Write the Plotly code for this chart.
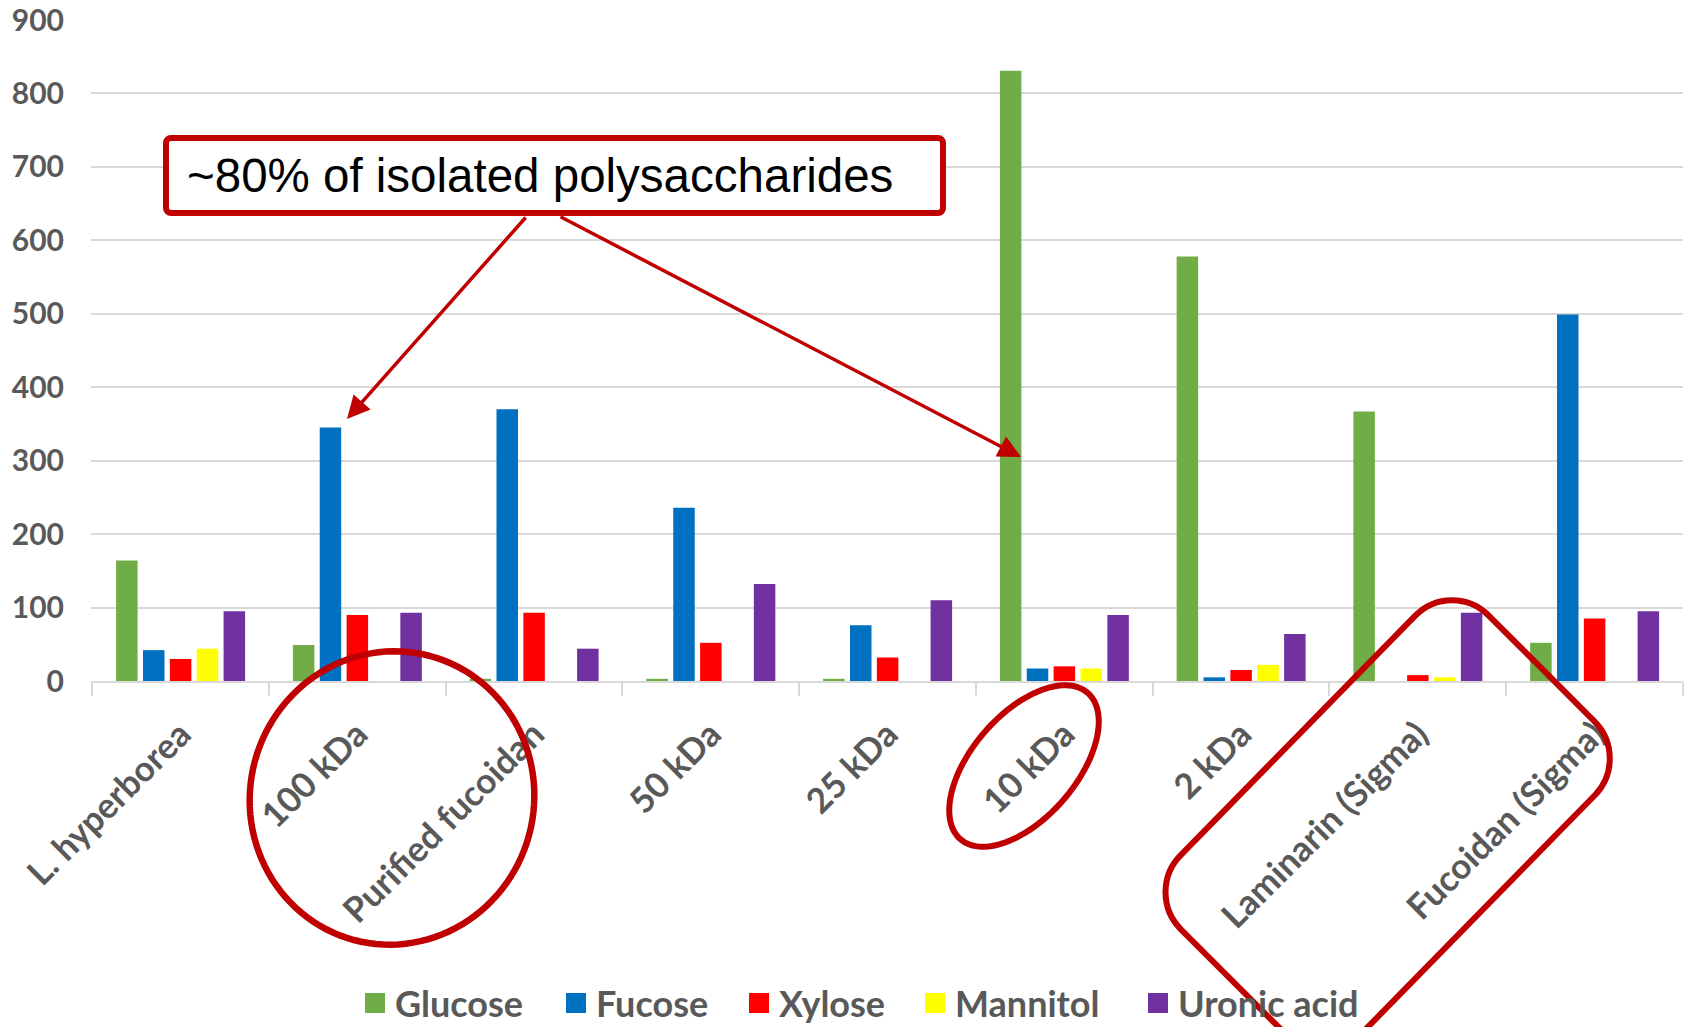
import numpy as np
import plotly.graph_objects as go

# ---------------- data ----------------
categories = ["L. hyperborea", "100 kDa", "Purified fucoidan", "50 kDa", "25 kDa",
              "10 kDa", "2 kDa", "Laminarin (Sigma)", "Fucoidan (Sigma)"]
glucose = [164, 49, 3, 3, 3, 831, 578, 367, 52]
fucose = [42, 345, 370, 236, 76, 17, 5, 0, 499]
xylose = [30, 90, 93, 52, 32, 20, 15, 8, 85]
mannitol = [44, 0, 0, 0, 0, 17, 22, 5, 0]
uronic_acid = [95, 93, 44, 132, 110, 90, 64, 93, 95]
series_names = ["Glucose", "Fucose", "Xylose", "Mannitol", "Uronic acid"]
series_colors = ["#70AD47", "#0070C0", "#FF0000", "#FFFF00", "#7030A0"]
y_ticks = [0, 100, 200, 300, 400, 500, 600, 700, 800, 900]
callout_text = "~80% of isolated polysaccharides"

# ---------------- geometry helpers (for the hand-drawn callout shapes) ----------------
W, H = 1686, 1027
ML, MR, MT, MB = 91, 3, 20, 346
PW, PH = W - ML - MR, H - MT - MB
DARK_RED = "#C00000"
GRAY_TXT = "#595959"
GRID = "#D9D9D9"
LEGEND_ITEM_X = [355, 556, 739, 915, 1138]   # pixel x of each legend entry


def to_paper(X, Y):
    return (X - ML) / PW, (H - MB - Y) / PH


def ellipse_path(cx, cy, a, b, theta_deg, n=120):
    t = np.linspace(0, 2 * np.pi, n, endpoint=False)
    th = np.radians(theta_deg)
    ux, uy = np.cos(th), -np.sin(th)
    vx, vy = np.sin(th), np.cos(th)
    X = cx + a * np.cos(t) * ux + b * np.sin(t) * vx
    Y = cy + a * np.cos(t) * uy + b * np.sin(t) * vy
    pts = [to_paper(x, y) for x, y in zip(X, Y)]
    return "M " + " L ".join(f"{p[0]:.5f},{p[1]:.5f}" for p in pts) + " Z"


def rounded_poly_path(corners, r, k=0.5523):
    c = [np.array(p, dtype=float) for p in corners]
    n = len(c)
    segs = []
    for i in range(n):
        cur, prv, nxt = c[i], c[i - 1], c[(i + 1) % n]
        din = (prv - cur) / np.linalg.norm(prv - cur)
        dout = (nxt - cur) / np.linalg.norm(nxt - cur)
        p_in, p_out = cur + r * din, cur + r * dout
        c1, c2 = p_in + k * (cur - p_in), p_out + k * (cur - p_out)
        segs.append((p_in, c1, c2, p_out))

    def fmt(p):
        q = to_paper(p[0], p[1])
        return f"{q[0]:.5f},{q[1]:.5f}"

    path = "M " + fmt(segs[0][0])
    for i, (p_in, c1, c2, p_out) in enumerate(segs):
        if i > 0:
            path += " L " + fmt(p_in)
        path += " C " + fmt(c1) + " " + fmt(c2) + " " + fmt(p_out)
    return path + " Z"


# ---------------- figure ----------------
fig = go.Figure()
all_series = [glucose, fucose, xylose, mannitol, uronic_acid]
for name, color, vals in zip(series_names, series_colors, all_series):
    fig.add_trace(go.Bar(x=categories, y=vals, name=name, marker_color=color,
                         marker_line_width=0, showlegend=False, legendgroup=name))

legend_layouts = {}
_, ly = to_paper(0, 1003)
for i, (name, color) in enumerate(zip(series_names, series_colors)):
    key = "legend" if i == 0 else f"legend{i + 1}"
    fig.add_trace(go.Scatter(x=[categories[0]], y=[None], mode="markers", name=name,
                             legendgroup=name, hoverinfo="skip", legend=key,
                             marker=dict(symbol="square", size=16, color=color,
                                         line=dict(color=color, width=4))))
    lx, _ = to_paper(LEGEND_ITEM_X[i], 0)
    legend_layouts[key] = dict(orientation="h", x=lx, xanchor="left", y=ly, yanchor="middle",
                               font=dict(family="Lato", size=36, color=GRAY_TXT, weight="bold"),
                               itemsizing="trace", bgcolor="rgba(0,0,0,0)")

shapes = []
# callout box
shapes.append(dict(type="path", xref="paper", yref="paper",
                   path=rounded_poly_path([(166, 138), (943, 138), (943, 213), (166, 213)], 5),
                   line=dict(color=DARK_RED, width=6), fillcolor="white", layer="above"))
# circle around 100 kDa / Purified fucoidan
shapes.append(dict(type="path", xref="paper", yref="paper",
                   path=ellipse_path(392, 798, 147, 142, 75),
                   line=dict(color=DARK_RED, width=6.5), layer="above"))
# ellipse around 10 kDa
shapes.append(dict(type="path", xref="paper", yref="paper",
                   path=ellipse_path(1024, 766, 97, 52, 49),
                   line=dict(color=DARK_RED, width=6), layer="above"))
# rotated rounded rectangle around the Sigma standards
shapes.append(dict(type="path", xref="paper", yref="paper",
                   path=rounded_poly_path([(1451.7, 578.5), (1631.2, 758.1),
                                           (1323.7, 1072.1), (1144.1, 892.5)], 52),
                   line=dict(color=DARK_RED, width=6), layer="above"))

annotations = []
tx, ty = to_paper(185, 176)
annotations.append(dict(x=tx, y=ty, xref="paper", yref="paper", xanchor="left",
                        yanchor="middle", showarrow=False, text=callout_text,
                        font=dict(family="Liberation Sans, Arial", size=47.5, color="black")))
for head, tail in [((347, 419), (527, 216)), ((1021, 457), (559, 216))]:
    hx, hy = to_paper(*head)
    annotations.append(dict(x=hx, y=hy, xref="paper", yref="paper", text="",
                            showarrow=True, ax=tail[0] - head[0], ay=tail[1] - head[1],
                            arrowcolor=DARK_RED, arrowwidth=3.5, arrowhead=2, arrowsize=1.3,
                            standoff=0, startstandoff=0))

fig.update_layout(
    width=W, height=H,
    margin=dict(l=ML, r=MR, t=MT, b=MB, autoexpand=False),
    paper_bgcolor="white", plot_bgcolor="white",
    barmode="group", bargap=0.24, bargroupgap=0.2,
    font=dict(family="Lato, Calibri, sans-serif", color=GRAY_TXT),
    xaxis=dict(type="category", tickangle=-45, showgrid=False,
               tickfont=dict(family="Lato", size=35, color=GRAY_TXT, weight="bold"),
               ticks="outside", tickson="boundaries", ticklen=13, tickwidth=1.5,
               tickcolor=GRID, showline=True, linecolor=GRID, linewidth=1.5,
               ticklabelstandoff=17),
    yaxis=dict(range=[0, 900], tickvals=y_ticks, showgrid=True, gridcolor=GRID,
               gridwidth=1.5, zeroline=False, showline=False,
               tickfont=dict(family="Lato", size=30, color=GRAY_TXT, weight="bold"),
               ticklabelstandoff=26),
    shapes=shapes, annotations=annotations,
    **legend_layouts,
)

fig.write_html("out.html", config={"displayModeBar": False},
               post_script="document.body.style.margin='0px';")
